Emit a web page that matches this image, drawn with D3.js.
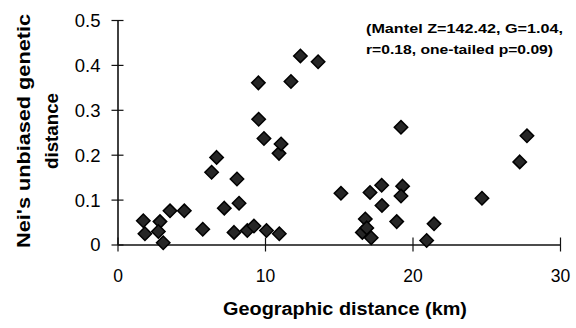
<!DOCTYPE html>
<html>
<head>
<meta charset="utf-8">
<script src="https://cdn.jsdelivr.net/npm/d3@7"></script>
<style>
  body { margin: 0; background: #fff; }
  text { font-family: Arial, "Liberation Sans", sans-serif; fill: #000; }
</style>
</head>
<body>
<div id="scatter"></div>
<script>
// Data
var distanceKm = [1.75, 2.88, 1.86, 2.77, 3.1, 3.56, 4.53, 5.78, 6.38, 6.72,
  7.24, 8.1, 8.24, 7.9, 8.8, 9.25, 9.55, 9.57, 9.93, 10.1,
  10.97, 10.95, 11.09, 11.76, 12.4, 13.6, 15.15, 16.6, 16.8, 16.9,
  17.2, 17.12, 17.91, 17.93, 18.93, 19.22, 19.33, 19.22, 20.96, 21.46,
  24.71, 27.27, 27.76];
var geneticDist = [0.053, 0.051, 0.024, 0.029, 0.004, 0.075, 0.075, 0.034, 0.161, 0.194,
  0.081, 0.146, 0.092, 0.027, 0.031, 0.041, 0.36, 0.279, 0.236, 0.031,
  0.024, 0.203, 0.224, 0.363, 0.42, 0.407, 0.114, 0.027, 0.057, 0.037,
  0.015, 0.116, 0.132, 0.087, 0.051, 0.261, 0.130, 0.108, 0.009, 0.046,
  0.103, 0.184, 0.242];
var xTicks = [0, 10, 20, 30];
var yTicks = [0, 0.1, 0.2, 0.3, 0.4, 0.5];
var statLines = ["(Mantel Z=142.42, G=1.04,", "r=0.18, one-tailed p=0.09)"];

var svgWidth = 576;
var svgHeight = 328;
var margin = { top: 20, right: 16, bottom: 83.5, left: 117.5 };
var width = svgWidth - margin.left - margin.right;
var height = svgHeight - margin.top - margin.bottom;

var svg = d3.select("#scatter")
  .append("svg")
  .attr("width", svgWidth)
  .attr("height", svgHeight);

var chartGroup = svg.append("g")
  .attr("transform", `translate(${margin.left}, ${margin.top})`);

var data = distanceKm.map(function (d, i) {
  return { km: d, nei: geneticDist[i] };
});

// Scales
var xLinearScale = d3.scaleLinear().domain([0, 30]).range([0, width]);
var yLinearScale = d3.scaleLinear().domain([0, 0.5]).range([height, 0]);

// Axes, ticks crossing the line
var bottomAxis = d3.axisBottom(xLinearScale)
  .tickValues(xTicks).tickSizeInner(7).tickSizeOuter(0).tickFormat(d3.format("d"));
var leftAxis = d3.axisLeft(yLinearScale)
  .tickValues(yTicks).tickSizeInner(6).tickSizeOuter(0)
  .tickFormat(function (d) { return d === 0 ? "0" : d3.format(".1f")(d); });

var xAxisG = chartGroup.append("g")
  .attr("transform", `translate(0,${height})`)
  .call(bottomAxis);
xAxisG.selectAll(".tick line").attr("y1", -7).attr("stroke", "#111").attr("stroke-width", 1.2);
xAxisG.selectAll(".tick text").attr("dy", 0).attr("y", 37).attr("font-size", "17.5px");

var yAxisG = chartGroup.append("g").call(leftAxis);
yAxisG.selectAll(".tick line").attr("x1", 6).attr("stroke", "#111").attr("stroke-width", 1.2);
yAxisG.selectAll(".tick text").attr("x", -17).attr("dy", "0.35em").attr("font-size", "18.5px");

chartGroup.selectAll(".domain").attr("stroke", "#111").attr("stroke-width", 1.6);
chartGroup.selectAll(".tick text").attr("font-family", "Arial, 'Liberation Sans', sans-serif").attr("fill", "#000");

// Diamond markers
var diamond = d3.symbol().type(d3.symbolDiamond2).size(115);
chartGroup.append("g").selectAll("path")
  .data(data)
  .enter()
  .append("path")
  .attr("d", diamond)
  .attr("transform", d => `translate(${xLinearScale(d.km)},${yLinearScale(d.nei)})`)
  .attr("fill", "#262626")
  .attr("stroke", "#000")
  .attr("stroke-width", 1.5);

// Axis titles
svg.append("text")
  .attr("x", 345)
  .attr("y", 315)
  .attr("text-anchor", "middle")
  .attr("font-size", "17.5px")
  .attr("font-weight", "700")
  .attr("textLength", 244)
  .attr("lengthAdjust", "spacingAndGlyphs")
  .text("Geographic distance (km)");

var yTitle = ["Nei's unbiased genetic", "distance"];
var yTitleLen = [234, 76];
svg.selectAll(".ytitle")
  .data(yTitle)
  .enter()
  .append("text")
  .attr("class", "ytitle")
  .attr("transform", (d, i) => `translate(${30 + i * 28},131) rotate(-90)`)
  .attr("text-anchor", "middle")
  .attr("font-size", "18px")
  .attr("font-weight", "700")
  .attr("textLength", (d, i) => yTitleLen[i])
  .attr("lengthAdjust", "spacingAndGlyphs")
  .text(d => d);

// Mantel test note
var statLen = [197, 187];
svg.selectAll(".stat")
  .data(statLines)
  .enter()
  .append("text")
  .attr("class", "stat")
  .attr("x", 366)
  .attr("y", (d, i) => 32.5 + i * 21)
  .attr("font-size", "13.5px")
  .attr("font-weight", "700")
  .attr("textLength", (d, i) => statLen[i])
  .attr("lengthAdjust", "spacingAndGlyphs")
  .text(d => d);
</script>
</body>
</html>
